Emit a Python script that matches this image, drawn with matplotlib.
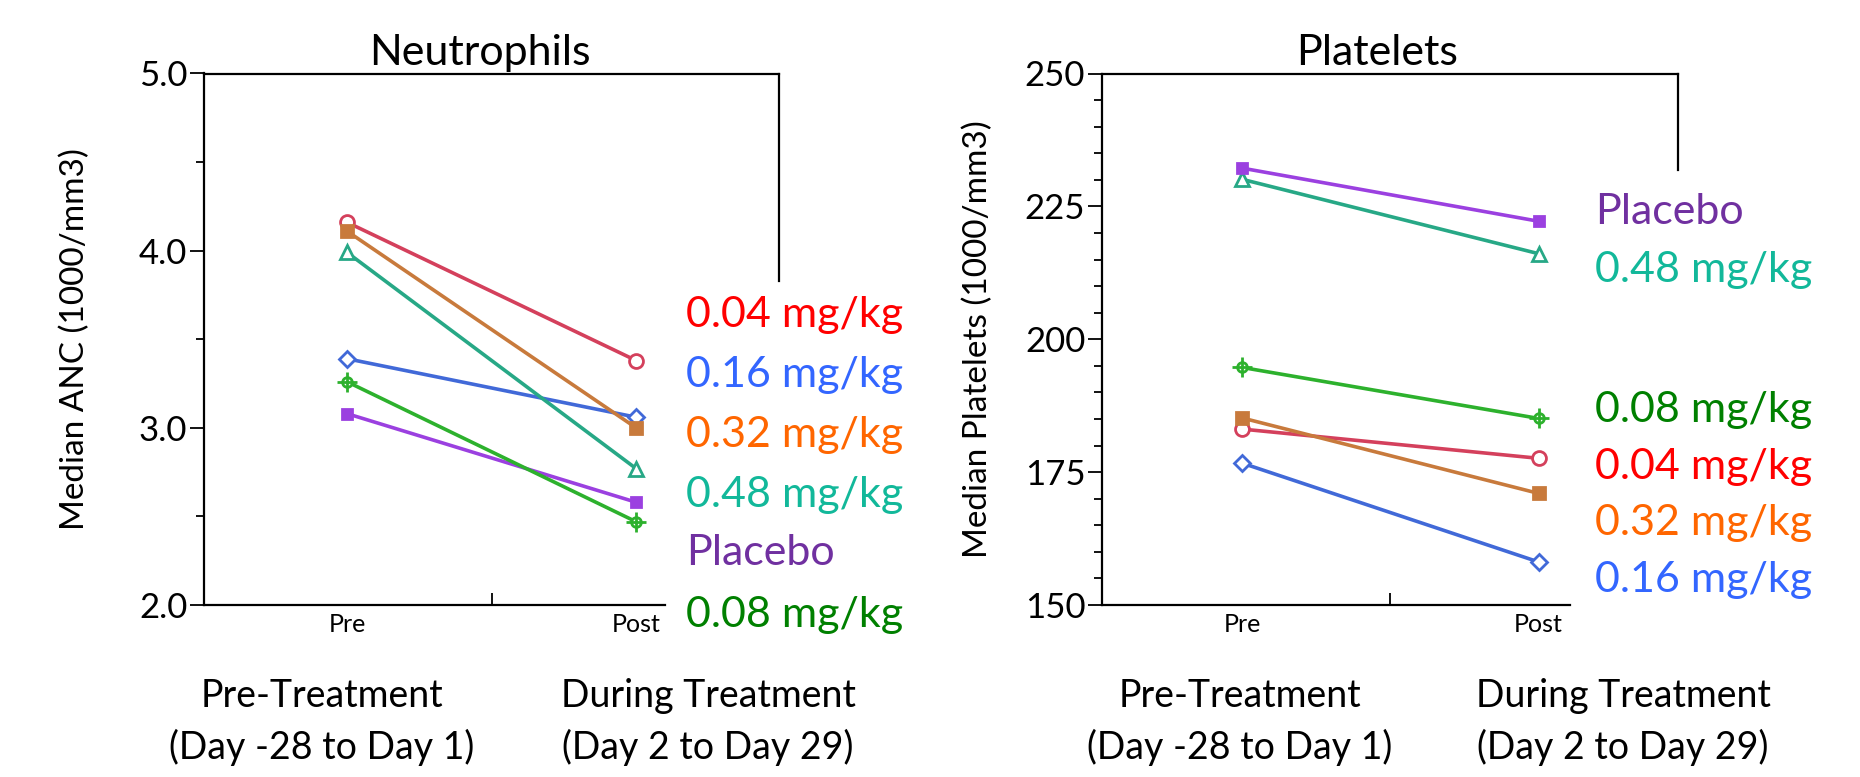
import matplotlib
matplotlib.use("Agg")
import matplotlib.pyplot as plt
from matplotlib.lines import Line2D

# ---- data ----
groups = ["0.04 mg/kg", "0.16 mg/kg", "0.32 mg/kg", "0.48 mg/kg", "Placebo", "0.08 mg/kg"]
timepoints = ["Pre", "Post"]
anc_pre = [4.16, 3.39, 4.11, 3.99, 3.08, 3.26]
anc_post = [3.38, 3.06, 3.00, 2.77, 2.58, 2.47]
plt_pre = [183.1, 176.7, 185.2, 230.1, 232.2, 194.7]
plt_post = [177.6, 158.1, 171.0, 216.1, 222.2, 185.1]
anc_label_order = ["0.04 mg/kg", "0.16 mg/kg", "0.32 mg/kg", "0.48 mg/kg", "Placebo", "0.08 mg/kg"]
plt_label_order = ["Placebo", "0.48 mg/kg", None, "0.08 mg/kg", "0.04 mg/kg", "0.32 mg/kg", "0.16 mg/kg"]

line_colors = {"0.04 mg/kg": "#D4405C", "0.16 mg/kg": "#4169D8", "0.32 mg/kg": "#C87A3C",
               "0.48 mg/kg": "#27A886", "Placebo": "#9B40E0", "0.08 mg/kg": "#2DB12D"}
label_colors = {"0.04 mg/kg": "#FF0000", "0.16 mg/kg": "#3366FF", "0.32 mg/kg": "#FF6600",
                "0.48 mg/kg": "#12B89A", "Placebo": "#7030A0", "0.08 mg/kg": "#008000"}
markers = {"0.04 mg/kg": ("o", False, 10), "0.16 mg/kg": ("D", False, 8), "0.32 mg/kg": ("s", True, 8),
           "0.48 mg/kg": ("^", False, 10), "Placebo": ("s", True, 7), "0.08 mg/kg": ("o", False, 7)}

plt.rcParams['font.family'] = ['Lato', 'DejaVu Sans']

W, H = 1860, 777
fig = plt.figure(figsize=(W / 100, H / 100), dpi=100)


def rect(x0, x1, ytop, ybot):
    return [x0 / W, 1 - ybot / H, (x1 - x0) / W, (ybot - ytop) / H]


def draw_panel(ax, pre, post, ylim, major, minor_step, ylabel, xl, xr, ylsize):
    x = [0, 1]
    for g, a, b in zip(groups, pre, post):
        m, filled, ms = markers[g]
        c = line_colors[g]
        ax.plot(x, [a, b], color=c, lw=2.6, marker=m, ms=ms,
                mfc=c if filled else "white", mec=c, mew=2, zorder=3)
        if g == "0.08 mg/kg":
            ax.plot(x, [a, b], ls="none", marker="+", ms=15, mec=c, mew=2, zorder=4)
    ax.set_xlim(xl, xr)
    ax.set_ylim(*ylim)
    ax.set_yticks(major)
    n = int(round((ylim[1] - ylim[0]) / minor_step))
    minors = [ylim[0] + i * minor_step for i in range(n + 1)]
    ax.set_yticks([v for v in minors if all(abs(v - mv) > 1e-9 for mv in major)], minor=True)
    ax.tick_params(axis="y", which="major", length=10, width=1.3, labelsize=25, pad=2)
    ax.tick_params(axis="y", which="minor", length=6, width=1.3)
    ax.set_xticks(x, timepoints)
    ax.set_xticks([0.5], minor=True)
    ax.tick_params(axis="x", which="major", length=0, labelsize=18, pad=6)
    ax.tick_params(axis="x", which="minor", length=9, width=1.3, direction="in")
    for s in ["top", "right"]:
        ax.spines[s].set_visible(False)
    for s in ["left", "bottom"]:
        ax.spines[s].set_linewidth(1.6)
    ax.set_ylabel(ylabel, fontsize=ylsize)


# left panel
ax1 = fig.add_axes(rect(204, 665, 73.5, 605))
draw_panel(ax1, anc_pre, anc_post, (2.0, 5.0), [2.0, 3.0, 4.0, 5.0], 0.5,
           "Median ANC (1000/mm3)", -0.495, 1.10, 24)
ax1.set_yticklabels(["2.0", "3.0", "4.0", "5.0"])
ax1.yaxis.set_label_coords((90 - 204) / (665 - 204), 0.5)

# right panel
ax2 = fig.add_axes(rect(1102, 1570, 73.5, 605))
draw_panel(ax2, plt_pre, plt_post, (150, 250), [150, 175, 200, 225, 250], 5,
           "Median Platelets (1000/mm3)", -0.472, 1.106, 24)
ax2.yaxis.set_label_coords((993 - 1102) / (1570 - 1102), 0.5)

# frame lines extending to the right
for (x0, x1, ytop, yend) in [(204, 779, 73.5, 281), (1102, 1678, 73.5, 170)]:
    fig.add_artist(Line2D([x0 / W, x1 / W], [1 - ytop / H, 1 - ytop / H], color="black", lw=1.6))
    fig.add_artist(Line2D([x1 / W, x1 / W], [1 - ytop / H, 1 - yend / H], color="black", lw=1.6))

# titles
fig.text(480 / W, 1 - 53 / H, "Neutrophils", fontsize=31, ha="center", va="center")
fig.text(1377 / W, 1 - 53 / H, "Platelets", fontsize=31, ha="center", va="center")

# group labels
anc_label_y = [315, 375, 435, 495, 553, 615]
for g, yy in zip(anc_label_order, anc_label_y):
    fig.text(686 / W, 1 - yy / H, g, color=label_colors[g], fontsize=31, ha="left", va="center")
plt_label_y = [212, 270, 340, 410, 467, 523, 580]
for g, yy in zip(plt_label_order, plt_label_y):
    if g is None:
        continue
    fig.text(1595 / W, 1 - yy / H, g, color=label_colors[g], fontsize=31, ha="left", va="center")

# period captions
captions = [("Pre-Treatment\n(Day -28 to Day 1)", 322), ("During Treatment\n(Day 2 to Day 29)", 708),
            ("Pre-Treatment\n(Day -28 to Day 1)", 1240), ("During Treatment\n(Day 2 to Day 29)", 1623)]
for txt, xc in captions:
    fig.text(xc / W, 1 - 722 / H, txt, fontsize=27, ha="center", va="center", linespacing=1.5)

fig.savefig("out.png", dpi=100)
